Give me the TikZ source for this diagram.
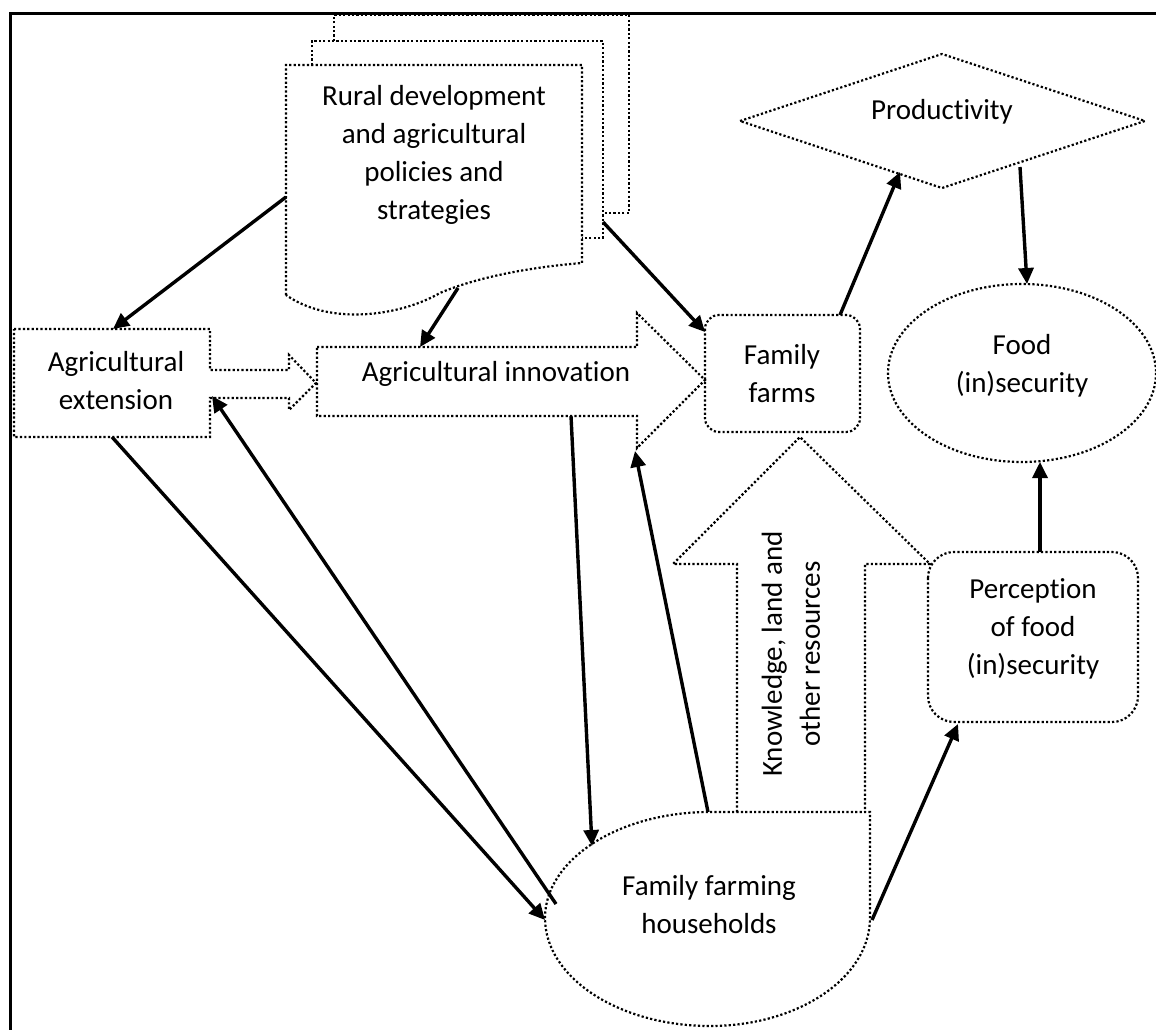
\documentclass[tikz,border=0pt]{standalone}
\usepackage{fontspec}
\setmainfont[Ligatures=NoCommon]{Carlito}
\usetikzlibrary{arrows.meta}
\begin{document}
\begin{tikzpicture}[x=1pt,y=-1pt,
  dotline/.style={line width=2.2pt, dash pattern=on 2.2pt off 2.2pt, line join=miter},
  conn/.style={line width=3.4pt, -{Triangle[length=16pt,width=15pt]}},
  lbl/.style={font=\fontsize{29}{38}\selectfont, align=center, inner sep=0pt},
  frameline/.style={line width=3.2pt}
]
\useasboundingbox (0,0) rectangle (1156,1030);
\fill[white] (0,0) rectangle (1156,1030);

% stacked documents
\draw[dotline] (334,41) -- (334,15) -- (629,15) -- (629,213) -- (603,213);
\draw[dotline] (312,65) -- (312,41) -- (603,41) -- (603,238) -- (582,238);
\draw[dotline] (286,295) -- (286,65) -- (582,65) -- (582,263)
  .. controls (520,268) and (470,280) .. (440,293)
  .. controls (400,316) and (330,326) .. (286,295);
\node[lbl] (rural) at (434,155) {Rural development\\and agricultural\\policies and\\strategies};

% agricultural extension (arrow callout)
\draw[dotline] (14,329) -- (210,329) -- (210,370) -- (289,370) -- (289,355) -- (316,383)
  -- (289,410) -- (289,398) -- (210,398) -- (210,437) -- (14,437) -- cycle;
\node[lbl] (ext) at (116,381) {Agricultural\\extension};

% agricultural innovation (arrow callout)
\draw[dotline] (317,347) -- (637,347) -- (637,313) -- (705,380) -- (637,448) -- (637,416) -- (317,416) -- cycle;
\node[lbl] (innov) at (496,374) {Agricultural innovation};

% family farms
\draw[dotline, rounded corners=14pt] (705,315) rectangle (860,432);
\node[lbl] (farms) at (782,374) {Family\\farms};

% productivity
\draw[dotline] (740,121) -- (942,54) -- (1145,121) -- (942,188) -- cycle;
\node[lbl] (prod) at (942,112) {Productivity};

% food (in)security
\draw[dotline] (1022,373) ellipse [x radius=134, y radius=89];
\node[lbl] (food) at (1022,366) {Food\\(in)security};

% perception
\draw[dotline, rounded corners=26pt] (928,552) rectangle (1138,722);
\node[lbl] (perc) at (1033,629) {Perception\\of food\\(in)security};

% big up arrow
\draw[dotline] (737,812) -- (737,564) -- (673,564) -- (800,437) -- (930,564) -- (865,564) -- (865,812);
\node[lbl, rotate=90] (know) at (791,654) {Knowledge, land and\\other resources};

% households
\draw[dotline] (710,812) -- (870,812) -- (870,918)
  .. controls (870,977.6) and (798.4,1026) .. (710,1026)
  .. controls (618.9,1026) and (545,977.6) .. (545,918)
  .. controls (545,859.5) and (618.9,812) .. (710,812) -- cycle;
\node[lbl] (house) at (709,905) {Family farming\\households};

% connector end points
\coordinate (ruralL) at (286,197);
\coordinate (extT) at (113,329);
\coordinate (ruralB) at (458,288);
\coordinate (innovT) at (420,347);
\coordinate (ruralR) at (603,222);
\coordinate (farmsL) at (705,332);
\coordinate (farmsT) at (840,315);
\coordinate (prodB) at (900,172);
\coordinate (prodR) at (1020,167);
\coordinate (foodT) at (1027,284);
\coordinate (percT) at (1040,552);
\coordinate (foodB) at (1040,462);
\coordinate (houseR) at (872,920);
\coordinate (percB) at (958,724);
\coordinate (houseT) at (708,812);
\coordinate (innovHead) at (635,451);
\coordinate (innovB) at (571,416);
\coordinate (houseTL) at (592,846);
\coordinate (extB) at (112,437);
\coordinate (houseL) at (545,920);
\coordinate (houseL2) at (556,904);
\coordinate (extR) at (212,396);

\draw[conn] (ruralL) -- (extT);
\draw[conn] (ruralB) -- (innovT);
\draw[conn] (ruralR) -- (farmsL);
\draw[conn] (farmsT) -- (prodB);
\draw[conn] (prodR) -- (foodT);
\draw[conn] (percT) -- (foodB);
\draw[conn] (houseR) -- (percB);
\draw[conn] (houseT) -- (innovHead);
\draw[conn] (innovB) -- (houseTL);
\draw[conn] (extB) -- (houseL);
\draw[conn] (houseL2) -- (extR);

% frame
\draw[frameline] (10.5,1030) -- (10.5,13.5) -- (1156,13.5);
\end{tikzpicture}
\end{document}
